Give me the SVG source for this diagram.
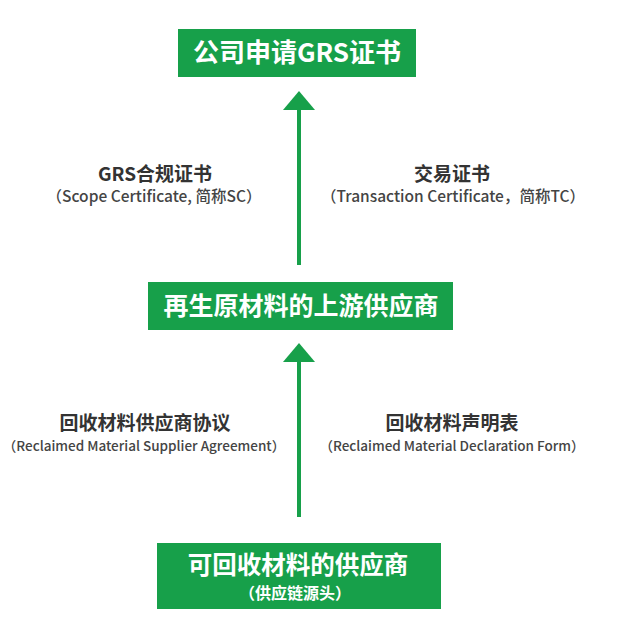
<svg xmlns="http://www.w3.org/2000/svg" width="622" height="627" viewBox="0 0 622 627">
<style>
.box{fill:#17a04a}
.bt{font-family:"Noto Sans CJK SC","Noto Sans",sans-serif;font-weight:700;fill:#fff;text-anchor:middle}
.lt{font-family:"Noto Sans CJK SC","Noto Sans",sans-serif;font-weight:700;fill:#333;text-anchor:middle;font-size:19px}
.st{font-family:"Noto Sans CJK SC","Noto Sans",sans-serif;font-weight:500;fill:#444;text-anchor:middle}
.shaft{stroke:#17a04a;stroke-width:4;fill:none}
.head{fill:#17a04a}
</style>
<rect width="622" height="627" fill="#fff"/>
<g id="connectors">
<line class="shaft" x1="299" y1="108" x2="299" y2="265"/>
<polygon class="head" points="299,91 283,110 315,110"/>
<line class="shaft" x1="299" y1="360" x2="299" y2="517"/>
<polygon class="head" points="299,343 283,362 315,362"/>
<text class="lt" x="155" y="181">GRS合规证书</text>
<text class="st" x="154" y="202" font-size="15.5">（Scope Certificate, 简称SC）</text>
<text class="lt" x="452" y="181">交易证书</text>
<text class="st" x="453" y="202" font-size="15.5">（Transaction Certificate，简称TC）</text>
<text class="lt" x="145" y="430">回收材料供应商协议</text>
<text class="st" x="144" y="451" font-size="13.5">（Reclaimed Material Supplier Agreement）</text>
<text class="lt" x="452" y="430">回收材料声明表</text>
<text class="st" x="452" y="451" font-size="13.5">（Reclaimed Material Declaration Form）</text>
</g>
<g id="node-gr">
<rect class="box" x="178" y="29" width="238" height="48"/>
<text class="bt" x="297" y="62" font-size="26">公司申请GRS证书</text>
</g>
<g id="node-upstream">
<rect class="box" x="148" y="282" width="305" height="48"/>
<text class="bt" x="301" y="315" font-size="25">再生原材料的上游供应商</text>
</g>
<g id="node-source">
<rect class="box" x="157" y="543" width="284" height="66"/>
<text class="bt" x="298" y="574" font-size="24.5">可回收材料的供应商</text>
<text class="bt" x="295" y="599" font-size="16">（供应链源头）</text>
</g>
</svg>
